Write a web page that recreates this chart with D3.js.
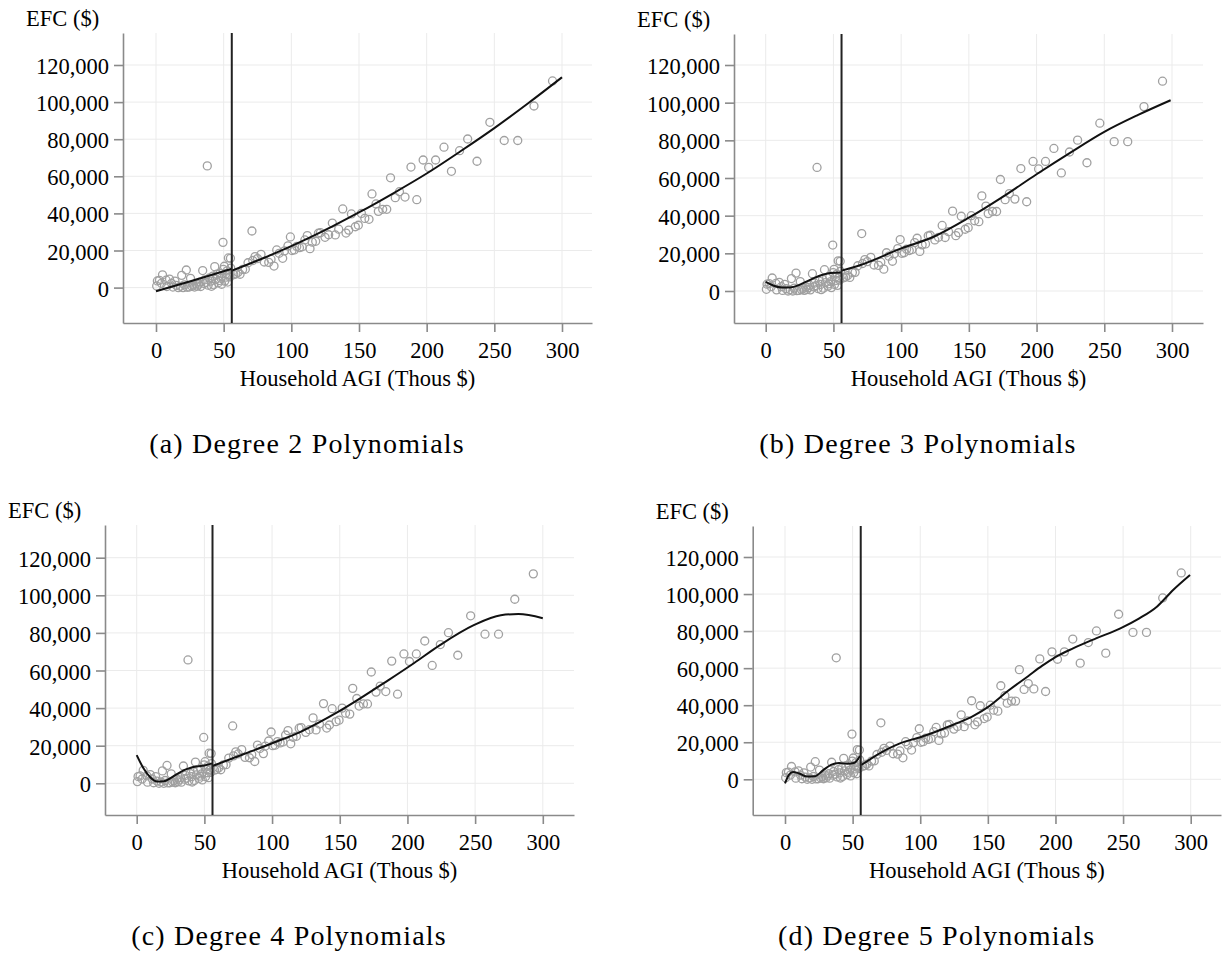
<!DOCTYPE html>
<html>
<head>
<meta charset="utf-8">
<script src="https://cdn.jsdelivr.net/npm/d3@7"></script>
<style>
body { margin: 0; background: #fff; }
svg { display: block; font-family: "Liberation Serif", "Times New Roman", serif; }
</style>
</head>
<body>
<div id="container"></div>
<script>
// 散点: 家庭 AGI (千美元) 与 EFC (美元)
const agi = [
    0.5, 1, 2.5, 4.8, 4, 7.5, 8, 10, 11.5, 12.5, 14, 15, 16.5, 18, 19, 20, 21, 22.4, 23, 24.5,
    25.5, 26.5, 27.5, 28.5, 29.5, 30.5, 31.5, 32.5, 33, 34.5, 35.5, 36, 37, 37.9, 38.5, 39.5, 40.5, 41, 42, 42.6,
    43.4, 44, 45, 46, 46.6, 47.3, 48, 48.5, 49.5, 49.8, 50.5, 50.8, 51.5, 52, 52.6, 53, 53.5, 54, 55, 55.2, 54.6,
    57.5, 59, 60.5, 62.1, 64, 66, 68, 70.9, 71.5, 73.2, 75, 77.6, 80, 83.3, 85, 87.2, 89.2, 91, 93.6, 95,
    97.5, 99.3, 100.5, 102.2, 104, 106, 108, 110, 111.8, 113.8, 115.5, 118, 120, 121.5, 124.9, 127.6, 130.3, 132.5, 135, 138,
    140.4, 142.4, 144.4, 147.3, 149.5, 151.8, 154.3, 157.4, 159.6, 162.6, 164.3, 167.5, 170.5, 173.3, 176.8, 179.9, 184, 188.4, 192.7, 197.4,
    201.5, 206.6, 212.8, 218.3, 224.3, 230.3, 237.2, 246.7, 257.3, 267.3, 279.3, 293
];
const efc = [
    900, 3600, 3900, 6900, 2300, 4000, 600, 4600, 2300, 300, 3500, 1200, 0, 700, 6600, 0, 1500, 9500, 200, 300,
    5000, 700, 1400, 300, 2200, 800, 1800, 3000, 600, 9200, 2200, 4200, 2800, 65600, 1300, 5200, 3500, 700, 6200, 1500,
    11300, 4500, 7200, 2600, 3800, 7700, 5000, 1800, 24400, 9800, 11500, 3500, 7500, 5600, 9000, 3000, 16000, 7200, 15800, 10500, 5800,
    7000, 7400, 8200, 7200, 9800, 9900, 13400, 30500, 14600, 16700, 15600, 17900, 13800, 13600, 15300, 11600, 20300, 18500, 15800, 19800,
    22500, 27300, 20000, 20300, 22200, 21500, 22000, 25700, 28000, 21000, 24500, 25000, 29300, 29600, 27100, 28500, 34800, 28400, 31500, 42400,
    29400, 31000, 39700, 32800, 33600, 40000, 37300, 36800, 50500, 45100, 41100, 42200, 42200, 59200, 48500, 51700, 48800, 65000, 47400, 68800,
    64800, 68800, 75700, 62700, 73800, 80100, 68100, 89100, 79300, 79300, 97900, 111400
];

// 断点
const cutoff = 56;

// 刻度
const xTicks = [0, 50, 100, 150, 200, 250, 300];
const yTicks = [0, 20000, 40000, 60000, 80000, 100000, 120000];

const captions = [
    "(a) Degree 2 Polynomials",
    "(b) Degree 3 Polynomials",
    "(c) Degree 4 Polynomials",
    "(d) Degree 5 Polynomials"
];

// 拟合曲线: [AGI, EFC]
const fitLeft2 = [[0, -2000], [28, 4000], [55.5, 10000]];
const fitRight2 = [[56, 9100], [80, 16100], [106, 24400], [130, 32900], [151, 40900], [175, 50700],
    [200, 61500], [225, 73500], [250, 86000], [275, 99400], [300, 113400]];
const fitLeft3 = [[0, 4900], [6, 2800], [12, 1800], [18, 1900], [24, 3000], [30, 5000], [36, 7000],
    [42, 8600], [48, 9600], [55.5, 9800]];
const fitRight3 = [[56, 10800], [70, 13800], [100, 22600], [124, 28800], [150, 38900], [175, 50000],
    [200, 62000], [225, 73500], [250, 84500], [275, 93500], [299, 101300]];
const fitLeft4 = [[0, 15000], [5, 8000], [10, 3200], [15, 900], [20, 1100], [25, 2800], [30, 5000],
    [35, 7000], [40, 8300], [45, 9000], [50, 9500], [55.9, 10600]];
const fitRight4 = [[56, 9200], [71, 13300], [100, 21300], [121, 27400], [150, 38500], [186, 54900],
    [205, 64000], [224, 73500], [249, 84100], [269, 89400], [282, 90000], [300, 87800]];
const fitLeft5 = [[0, -2200], [3, 2500], [6, 4000], [10, 3300], [16, 1500], [22, 1600], [28, 4800],
    [34, 7800], [40, 8800], [46, 8400], [51, 8800], [55.5, 12600]];
const fitRight5 = [[56.5, 7700], [70, 14000], [85, 19400], [100, 22700], [124, 29300], [140, 34500],
    [150, 39000], [165, 47800], [180, 55800], [190, 61200], [200, 66000], [213, 70700], [230, 76100],
    [248, 81500], [262, 86900], [275, 93200], [287, 102200], [299.5, 110300]];

const fitsLeft = [fitLeft2, fitLeft3, fitLeft4, fitLeft5];
const fitsRight = [fitRight2, fitRight3, fitRight4, fitRight5];

// 每个子图的像素位置
const frames = [
    { left: 123, right: 592, top: 33, bottom: 323, x0: 156, x300: 562, y0: 287.6, y120: 65 },
    { left: 734, right: 1203, top: 34, bottom: 323, x0: 765.7, x300: 1172, y0: 291, y120: 65 },
    { left: 105, right: 574, top: 525, bottom: 815, x0: 136.7, x300: 542.8, y0: 783.3, y120: 557.7 },
    { left: 752.7, right: 1221, top: 526, bottom: 815, x0: 785, x300: 1190.7, y0: 779.3, y120: 557 }
];

const svg = d3.select("#container").append("svg")
    .attr("width", 1225)
    .attr("height", 957);

const points = agi.map((a, i) => ({ a, e: efc[i] }));

frames.forEach((f, i) => drawPanel(f, i));

function drawPanel(f, i) {
    const g = svg.append("g");

    // 比例尺: 先按刻度位置, 再扩到整个边框
    const x = d3.scaleLinear().domain([0, 300]).range([f.x0, f.x300]);
    x.domain([x.invert(f.left), x.invert(f.right)]).range([f.left, f.right]);
    const y = d3.scaleLinear().domain([0, 120000]).range([f.y0, f.y120]);
    y.domain([y.invert(f.bottom), y.invert(f.top)]).range([f.bottom, f.top]);

    // 网格
    g.append("g").selectAll("line").data(xTicks).join("line")
        .attr("x1", d => x(d)).attr("x2", d => x(d))
        .attr("y1", f.top).attr("y2", f.bottom)
        .attr("stroke", "#ebebeb").attr("stroke-width", 1);
    g.append("g").selectAll("line").data(yTicks).join("line")
        .attr("x1", f.left).attr("x2", f.right)
        .attr("y1", d => y(d)).attr("y2", d => y(d))
        .attr("stroke", "#ebebeb").attr("stroke-width", 1);

    // 坐标轴
    const gx = g.append("g")
        .attr("transform", `translate(0,${f.bottom})`)
        .call(d3.axisBottom(x).tickValues(xTicks).tickSize(9).tickPadding(10).tickSizeOuter(0));
    const gy = g.append("g")
        .attr("transform", `translate(${f.left},0)`)
        .call(d3.axisLeft(y).tickValues(yTicks).tickFormat(d3.format(",")).tickSize(9).tickPadding(5).tickSizeOuter(0));
    [gx, gy].forEach(ax => {
        ax.attr("font-family", null).attr("font-size", null);
        ax.selectAll("path, line").attr("stroke", "#8a8a8a").attr("stroke-width", 1.6);
        ax.selectAll("text").attr("fill", "#000").style("font-size", "22.5px");
    });
    gy.selectAll("text").attr("dy", "0.38em");

    // 散点
    g.append("g").selectAll("circle").data(points).join("circle")
        .attr("cx", d => x(d.a))
        .attr("cy", d => y(d.e))
        .attr("r", 4)
        .attr("fill", "none")
        .attr("stroke", "#a0a0a0")
        .attr("stroke-width", 1.3);

    // 拟合曲线
    const line = d3.line()
        .x(d => x(d[0]))
        .y(d => y(d[1]))
        .curve(d3.curveMonotoneX);
    [fitsLeft[i], fitsRight[i]].forEach(fit => {
        g.append("path")
            .attr("d", line(fit))
            .attr("fill", "none")
            .attr("stroke", "#111")
            .attr("stroke-width", 2);
    });

    // 断点竖线
    g.append("line")
        .attr("x1", x(cutoff)).attr("x2", x(cutoff))
        .attr("y1", f.top).attr("y2", f.bottom)
        .attr("stroke", "#222")
        .attr("stroke-width", 2);

    // 文字
    g.append("text")
        .attr("x", f.left - 97)
        .attr("y", f.top - 7.5)
        .style("font-size", "22.5px")
        .text("EFC ($)");
    g.append("text")
        .attr("x", (f.left + f.right) / 2)
        .attr("y", f.bottom + 63)
        .attr("text-anchor", "middle")
        .style("font-size", "22.5px")
        .text("Household AGI (Thous $)");
    g.append("text")
        .attr("x", f.left + 184)
        .attr("y", f.bottom + 130)
        .attr("text-anchor", "middle")
        .style("font-size", "28px")
        .style("letter-spacing", "1.2px")
        .text(captions[i]);
}
</script>
</body>
</html>
